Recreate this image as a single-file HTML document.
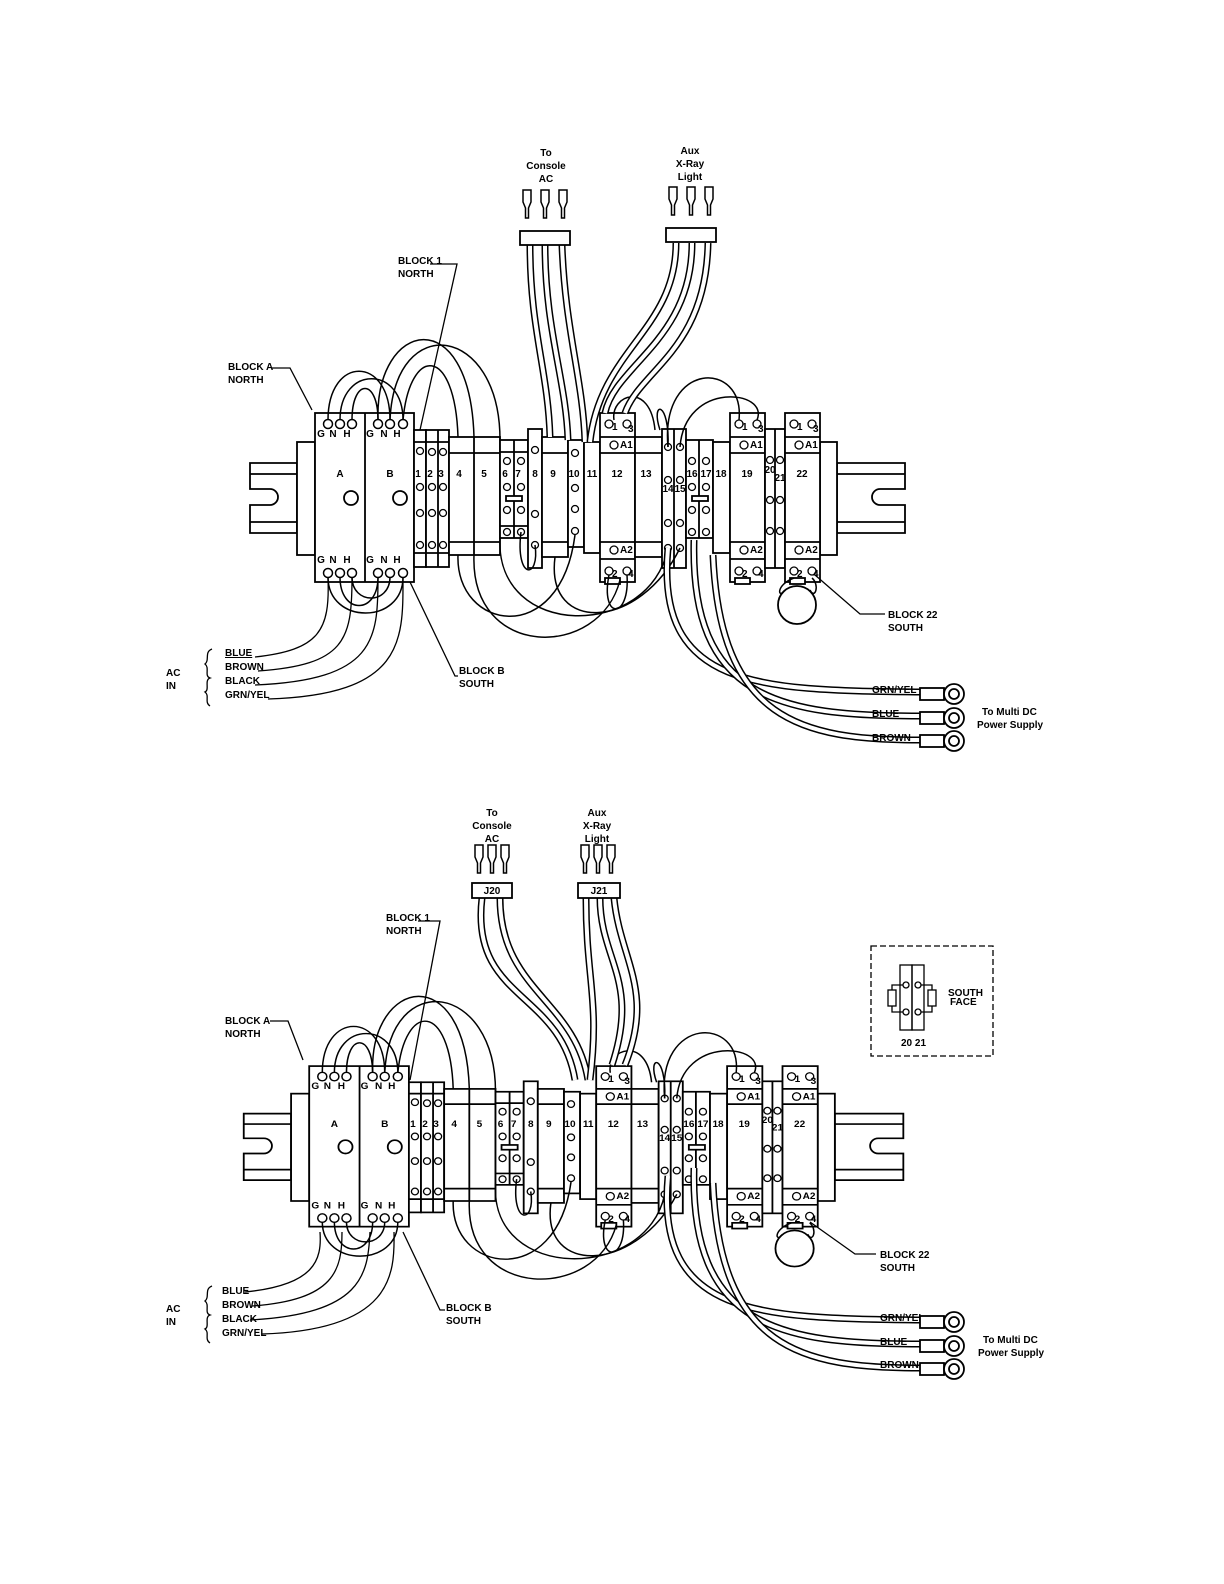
<!DOCTYPE html>
<html><head><meta charset="utf-8"><style>
html,body{margin:0;padding:0;background:#fff}
svg{display:block}
text{font-family:"Liberation Sans",sans-serif;font-size:10px;font-weight:bold;fill:#000}
.c{text-anchor:middle}
</style></head><body>
<svg width="1224" height="1584" viewBox="0 0 1224 1584" xmlns="http://www.w3.org/2000/svg">
<defs>
<g id="blk" fill="#fff" stroke="#000" stroke-width="1.8">
 <path d="M250,463 H297 V533 H250 V505 H270 A8,8 0 0 0 270,489 H250 Z"/>
 <line x1="250" y1="474" x2="297" y2="474"/><line x1="250" y1="522" x2="297" y2="522"/>
 <path d="M905,463 H837 V533 H905 V505 H880 A8,8 0 0 1 880,489 H905 Z"/>
 <line x1="837" y1="474" x2="905" y2="474"/><line x1="837" y1="522" x2="905" y2="522"/>
 <rect x="297" y="442" width="18" height="113"/>
 <rect x="820" y="442" width="17" height="113"/>
 <rect x="315" y="413" width="99" height="169"/>
 <line x1="365" y1="413" x2="365" y2="582"/>
 <circle cx="351" cy="498" r="7"/><circle cx="400" cy="498" r="7"/>
 <g stroke-width="1.5">
 <circle cx="328" cy="424" r="4.5"/><circle cx="340" cy="424" r="4.5"/><circle cx="352" cy="424" r="4.5"/>
 <circle cx="378" cy="424" r="4.5"/><circle cx="390" cy="424" r="4.5"/><circle cx="403" cy="424" r="4.5"/>
 <circle cx="328" cy="573" r="4.5"/><circle cx="340" cy="573" r="4.5"/><circle cx="352" cy="573" r="4.5"/>
 <circle cx="378" cy="573" r="4.5"/><circle cx="390" cy="573" r="4.5"/><circle cx="403" cy="573" r="4.5"/>
 </g>
 <rect x="414" y="430" width="12" height="137"/>
 <rect x="426" y="430" width="23" height="137"/><line x1="438" y1="430" x2="438" y2="567"/>
 <line x1="414" y1="442" x2="449" y2="442"/><line x1="414" y1="553" x2="449" y2="553"/>
 <rect x="449" y="437" width="51" height="118"/><line x1="474" y1="437" x2="474" y2="555"/>
 <line x1="449" y1="453" x2="500" y2="453"/><line x1="449" y1="542" x2="500" y2="542"/>
 <rect x="500" y="440" width="28" height="98"/><line x1="514" y1="440" x2="514" y2="538"/>
 <line x1="500" y1="452" x2="528" y2="452"/><line x1="500" y1="526" x2="528" y2="526"/>
 <rect x="506" y="496" width="16" height="5"/>
 <rect x="528" y="429" width="14" height="139"/>
 <rect x="542" y="437" width="26" height="120"/><line x1="542" y1="453" x2="568" y2="453"/><line x1="542" y1="542" x2="568" y2="542"/>
 <rect x="568" y="440" width="16" height="107"/>
 <rect x="584" y="442" width="16" height="111"/>
 <rect x="600" y="413" width="35" height="169"/><line x1="600" y1="437" x2="635" y2="437"/><line x1="600" y1="453" x2="635" y2="453"/><line x1="600" y1="542" x2="635" y2="542"/><line x1="600" y1="559" x2="635" y2="559"/>
 <rect x="635" y="437" width="27" height="120"/><line x1="635" y1="453" x2="662" y2="453"/><line x1="635" y1="542" x2="662" y2="542"/>
 <rect x="662" y="429" width="24" height="139"/><line x1="674" y1="429" x2="674" y2="568"/>
 <rect x="686" y="440" width="27" height="98"/><line x1="699" y1="440" x2="699" y2="538"/><rect x="692" y="496" width="16" height="5"/>
 <rect x="713" y="442" width="17" height="111"/>
 <rect x="730" y="413" width="35" height="169"/><line x1="730" y1="437" x2="765" y2="437"/><line x1="730" y1="453" x2="765" y2="453"/><line x1="730" y1="542" x2="765" y2="542"/><line x1="730" y1="559" x2="765" y2="559"/>
 <rect x="765" y="429" width="20" height="139"/><line x1="775" y1="429" x2="775" y2="568"/>
 <rect x="785" y="413" width="35" height="169"/><line x1="785" y1="437" x2="820" y2="437"/><line x1="785" y1="453" x2="820" y2="453"/><line x1="785" y1="542" x2="820" y2="542"/><line x1="785" y1="559" x2="820" y2="559"/>
 <g stroke-width="1.3">
 <circle cx="420" cy="451" r="3.5"/><circle cx="420" cy="487" r="3.5"/><circle cx="420" cy="513" r="3.5"/><circle cx="420" cy="545" r="3.5"/>
 <circle cx="432" cy="452" r="3.5"/><circle cx="443" cy="452" r="3.5"/><circle cx="432" cy="487" r="3.5"/><circle cx="443" cy="487" r="3.5"/><circle cx="432" cy="513" r="3.5"/><circle cx="443" cy="513" r="3.5"/><circle cx="432" cy="545" r="3.5"/><circle cx="443" cy="545" r="3.5"/>
 <circle cx="507" cy="461" r="3.5"/><circle cx="521" cy="461" r="3.5"/><circle cx="507" cy="487" r="3.5"/><circle cx="521" cy="487" r="3.5"/><circle cx="507" cy="510" r="3.5"/><circle cx="521" cy="510" r="3.5"/><circle cx="507" cy="532" r="3.5"/><circle cx="521" cy="532" r="3.5"/>
 <circle cx="535" cy="450" r="3.5"/><circle cx="535" cy="514" r="3.5"/><circle cx="535" cy="545" r="3.5"/>
 <circle cx="575" cy="453" r="3.5"/><circle cx="575" cy="488" r="3.5"/><circle cx="575" cy="509" r="3.5"/><circle cx="575" cy="531" r="3.5"/>
 <circle cx="609" cy="424" r="4"/><circle cx="627" cy="424" r="4"/><circle cx="614" cy="445" r="4"/><circle cx="614" cy="550" r="4"/><circle cx="609" cy="571" r="4"/><circle cx="627" cy="571" r="4"/>
 <circle cx="668" cy="447" r="3.5"/><circle cx="680" cy="447" r="3.5"/><circle cx="668" cy="480" r="3.5"/><circle cx="680" cy="480" r="3.5"/><circle cx="668" cy="523" r="3.5"/><circle cx="680" cy="523" r="3.5"/><circle cx="668" cy="548" r="3.5"/><circle cx="680" cy="548" r="3.5"/>
 <circle cx="692" cy="461" r="3.5"/><circle cx="706" cy="461" r="3.5"/><circle cx="692" cy="487" r="3.5"/><circle cx="706" cy="487" r="3.5"/><circle cx="692" cy="510" r="3.5"/><circle cx="706" cy="510" r="3.5"/><circle cx="692" cy="532" r="3.5"/><circle cx="706" cy="532" r="3.5"/>
 <circle cx="739" cy="424" r="4"/><circle cx="757" cy="424" r="4"/><circle cx="744" cy="445" r="4"/><circle cx="744" cy="550" r="4"/><circle cx="739" cy="571" r="4"/><circle cx="757" cy="571" r="4"/>
 <circle cx="770" cy="460" r="3.5"/><circle cx="780" cy="460" r="3.5"/><circle cx="770" cy="500" r="3.5"/><circle cx="770" cy="531" r="3.5"/><circle cx="780" cy="531" r="3.5"/><circle cx="780" cy="500" r="3.5"/>
 <circle cx="794" cy="424" r="4"/><circle cx="812" cy="424" r="4"/><circle cx="799" cy="445" r="4"/><circle cx="799" cy="550" r="4"/><circle cx="794" cy="571" r="4"/><circle cx="812" cy="571" r="4"/>
 </g>
 <rect x="605" y="578" width="15" height="6"/><rect x="735" y="578" width="15" height="6"/><rect x="790" y="578" width="15" height="6"/>
 <g fill="none" stroke-width="1.5">
 <path d="M328,420 C328,355 390,355 390,420"/><path d="M340,420 C340,365 403,365 403,420"/><path d="M352,420 C352,378 378,378 378,420"/>
 <path d="M378,420 C375,320 470,300 474,437"/><path d="M390,420 C395,310 500,325 500,440"/><path d="M403,420 C410,345 455,345 458,437"/>
 <path d="M340,577 C340,615 378,615 378,577"/><path d="M352,577 C352,605 390,605 390,577"/><path d="M328,577 C328,625 403,625 403,577"/>
 <path d="M474,555 C470,660 600,660 620,580"/><path d="M458,555 C455,630 560,650 575,535"/><path d="M500,538 C495,640 650,640 668,548"/>
 <path d="M521,532 C515,580 540,580 535,545"/><path d="M555,557 C545,635 640,630 680,548"/><path d="M609,575 C600,620 630,620 627,575"/>
 <path d="M614,420 C610,395 650,380 655,430"/><path d="M668,447 C660,360 745,360 739,420"/><path d="M680,447 C685,380 770,390 757,420"/>
 <path d="M660,430 C650,400 670,400 668,447"/>
 </g>
 <circle cx="797" cy="605" r="19"/>
 <path d="M794,578 C775,585 778,600 785,590 M812,578 C820,585 815,600 810,590" fill="none" stroke-width="1.5"/>
</g>
<g id="lbl">
<text class="c" x="321" y="437">G</text><text class="c" x="333" y="437">N</text><text class="c" x="347" y="437">H</text>
<text class="c" x="370" y="437">G</text><text class="c" x="384" y="437">N</text><text class="c" x="397" y="437">H</text>
<text class="c" x="321" y="563">G</text><text class="c" x="333" y="563">N</text><text class="c" x="347" y="563">H</text>
<text class="c" x="370" y="563">G</text><text class="c" x="384" y="563">N</text><text class="c" x="397" y="563">H</text>
<text class="c" x="340" y="477">A</text><text class="c" x="390" y="477">B</text>
<text class="c" x="418" y="477">1</text><text class="c" x="430" y="477">2</text><text class="c" x="441" y="477">3</text>
<text class="c" x="459" y="477">4</text><text class="c" x="484" y="477">5</text><text class="c" x="505" y="477">6</text><text class="c" x="518" y="477">7</text>
<text class="c" x="535" y="477">8</text><text class="c" x="553" y="477">9</text><text class="c" x="574" y="477">10</text><text class="c" x="592" y="477">11</text>
<text class="c" x="617" y="477">12</text><text class="c" x="646" y="477">13</text><text class="c" x="668" y="492">14</text><text class="c" x="680" y="492">15</text>
<text class="c" x="692" y="477">16</text><text class="c" x="706" y="477">17</text><text class="c" x="721" y="477">18</text><text class="c" x="747" y="477">19</text>
<text class="c" x="770" y="473">20</text><text class="c" x="780" y="481">21</text><text class="c" x="802" y="477">22</text>
<g font-size="9"><text x="620" y="448">A1</text><text x="750" y="448">A1</text><text x="805" y="448">A1</text>
<text x="620" y="553">A2</text><text x="750" y="553">A2</text><text x="805" y="553">A2</text>
<text x="612" y="430">1</text><text x="628" y="432">3</text><text x="742" y="430">1</text><text x="758" y="432">3</text><text x="797" y="430">1</text><text x="813" y="432">3</text>
<text x="612" y="577">2</text><text x="628" y="577">4</text><text x="742" y="577">2</text><text x="758" y="577">4</text><text x="797" y="577">2</text><text x="813" y="577">4</text></g>
</g>
<g id="cab" fill="none">
 <path d="M668,548 C655,690 760,690 920,692" stroke="#000" stroke-width="7"/>
 <path d="M668,548 C655,690 760,690 920,692" stroke="#fff" stroke-width="4"/>
 <path d="M694,540 C690,700 780,716 920,716" stroke="#000" stroke-width="7"/>
 <path d="M694,540 C690,700 780,716 920,716" stroke="#fff" stroke-width="4"/>
 <path d="M713,555 C720,720 800,740 920,740" stroke="#000" stroke-width="7"/>
 <path d="M713,555 C720,720 800,740 920,740" stroke="#fff" stroke-width="4"/>
</g>
<g id="ring" fill="#fff" stroke="#000" stroke-width="1.8">
 <rect x="0" y="-6" width="24" height="12"/>
 <circle cx="34" cy="0" r="10"/><circle cx="34" cy="0" r="5"/>
</g>
<g id="spade" fill="#fff" stroke="#000" stroke-width="1.5">
 <path d="M-4,0 H4 V12 L1.5,18 V28 H-1.5 V18 L-4,12 Z"/>
</g>
</defs>

<!-- TOP -->
<use href="#blk"/>
<use href="#cab"/>
<g fill="none">
 <path d="M530,245 C530,330 548,370 550,437" stroke="#000" stroke-width="7"/><path d="M530,245 C530,330 548,370 550,437" stroke="#fff" stroke-width="4"/>
 <path d="M545,245 C545,330 566,380 568,440" stroke="#000" stroke-width="7"/><path d="M545,245 C545,330 566,380 568,440" stroke="#fff" stroke-width="4"/>
 <path d="M562,245 C565,330 583,380 585,442" stroke="#000" stroke-width="7"/><path d="M562,245 C565,330 583,380 585,442" stroke="#fff" stroke-width="4"/>
 <path d="M676,243 C676,330 600,350 590,442" stroke="#000" stroke-width="7"/><path d="M676,243 C676,330 600,350 590,442" stroke="#fff" stroke-width="4"/>
 <path d="M692,243 C692,340 615,365 605,413" stroke="#000" stroke-width="7"/><path d="M692,243 C692,340 615,365 605,413" stroke="#fff" stroke-width="4"/>
 <path d="M708,243 C706,350 640,370 625,413" stroke="#000" stroke-width="7"/><path d="M708,243 C706,350 640,370 625,413" stroke="#fff" stroke-width="4"/>
</g>
<use href="#spade" x="527" y="190"/><use href="#spade" x="545" y="190"/><use href="#spade" x="563" y="190"/>
<use href="#spade" x="673" y="187"/><use href="#spade" x="691" y="187"/><use href="#spade" x="709" y="187"/>
<rect x="520" y="231" width="50" height="14" fill="#fff" stroke="#000" stroke-width="1.8"/>
<rect x="666" y="228" width="50" height="14" fill="#fff" stroke="#000" stroke-width="1.8"/>
<text class="c" x="546" y="156">To</text><text class="c" x="546" y="169">Console</text><text class="c" x="546" y="182">AC</text>
<text class="c" x="690" y="154">Aux</text><text class="c" x="690" y="167">X-Ray</text><text class="c" x="690" y="180">Light</text>
<g fill="none" stroke="#000" stroke-width="1.3">
 <path d="M430,264 H457 L420,430"/><path d="M272,368 H290 L312,410"/>
 <path d="M410,582 L455,676 H458"/><path d="M885,614 H860 L815,575"/>
 <path d="M255,657 C320,650 330,630 328,578"/><path d="M258,671 C345,665 352,640 352,578"/>
 <path d="M255,685 C375,680 378,640 378,578"/><path d="M268,699 C405,695 403,640 403,578"/>
 <path d="M212,649 C204,652 210,660 205,664 C210,668 204,676 210,678 C204,680 210,690 205,692 C210,696 204,702 210,706"/>
</g>
<text x="398" y="264">BLOCK 1</text><text x="398" y="277">NORTH</text>
<text x="228" y="370">BLOCK A</text><text x="228" y="383">NORTH</text>
<text x="459" y="674">BLOCK B</text><text x="459" y="687">SOUTH</text>
<text x="888" y="618">BLOCK 22</text><text x="888" y="631">SOUTH</text>
<text x="166" y="676">AC</text><text x="166" y="689">IN</text>
<text x="225" y="656" text-decoration="underline">BLUE</text><text x="225" y="670">BROWN</text><text x="225" y="684">BLACK</text><text x="225" y="698">GRN/YEL</text>
<text x="872" y="693">GRN/YEL</text><text x="872" y="717">BLUE</text><text x="872" y="741">BROWN</text>
<use href="#ring" x="920" y="694"/><use href="#ring" x="920" y="718"/><use href="#ring" x="920" y="741"/>
<text x="982" y="715">To Multi DC</text><text x="977" y="728">Power Supply</text>
<use href="#lbl"/>

<!-- BOTTOM -->
<g transform="translate(-8,650) scale(1.007,0.95) translate(0,25)">
<use href="#blk"/>
<use href="#lbl"/>
</g>
<use href="#cab" transform="translate(0,628)"/>
<g fill="none">
 <path d="M482,898 C470,1000 560,990 575,1080" stroke="#000" stroke-width="7"/><path d="M482,898 C470,1000 560,990 575,1080" stroke="#fff" stroke-width="4"/>
 <path d="M500,898 C500,990 575,1000 588,1080" stroke="#000" stroke-width="7"/><path d="M500,898 C500,990 575,1000 588,1080" stroke="#fff" stroke-width="4"/>
 <path d="M586,898 C586,980 600,1000 590,1080" stroke="#000" stroke-width="7"/><path d="M586,898 C586,980 600,1000 590,1080" stroke="#fff" stroke-width="4"/>
 <path d="M600,898 C600,960 640,980 612,1065" stroke="#000" stroke-width="7"/><path d="M600,898 C600,960 640,980 612,1065" stroke="#fff" stroke-width="4"/>
 <path d="M614,898 C620,960 655,990 625,1065" stroke="#000" stroke-width="7"/><path d="M614,898 C620,960 655,990 625,1065" stroke="#fff" stroke-width="4"/>
</g>
<use href="#spade" x="479" y="845"/><use href="#spade" x="492" y="845"/><use href="#spade" x="505" y="845"/>
<use href="#spade" x="585" y="845"/><use href="#spade" x="598" y="845"/><use href="#spade" x="611" y="845"/>
<rect x="472" y="883" width="40" height="15" fill="#fff" stroke="#000" stroke-width="1.8"/>
<rect x="578" y="883" width="42" height="15" fill="#fff" stroke="#000" stroke-width="1.8"/>
<text class="c" x="492" y="894" font-size="9">J20</text><text class="c" x="599" y="894" font-size="9">J21</text>
<text class="c" x="492" y="816">To</text><text class="c" x="492" y="829">Console</text><text class="c" x="492" y="842">AC</text>
<text class="c" x="597" y="816">Aux</text><text class="c" x="597" y="829">X-Ray</text><text class="c" x="597" y="842">Light</text>
<g fill="none" stroke="#000" stroke-width="1.3">
 <path d="M418,921 H440 L410,1080"/><path d="M270,1021 H288 L303,1060"/>
 <path d="M403,1232 L440,1310 H445"/><path d="M876,1254 H855 L810,1222"/>
 <path d="M245,1292 C315,1285 322,1260 320,1232"/><path d="M252,1306 C335,1300 342,1270 342,1232"/>
 <path d="M250,1320 C362,1314 368,1275 370,1232"/><path d="M262,1334 C392,1330 395,1275 394,1232"/>
 <path d="M212,1286 C204,1289 210,1297 205,1301 C210,1305 204,1313 210,1315 C204,1317 210,1327 205,1329 C210,1333 204,1339 210,1343"/>
 <rect x="871" y="946" width="122" height="110" stroke-dasharray="6,3"/>
 <rect x="900" y="965" width="12" height="65"/><rect x="912" y="965" width="12" height="65"/>
 <circle cx="906" cy="985" r="3"/><circle cx="918" cy="985" r="3"/><circle cx="906" cy="1012" r="3"/><circle cx="918" cy="1012" r="3"/>
 <path d="M903,985 H892 V1012 H903 M921,985 H932 V1012 H921"/>
 <rect x="888" y="990" width="8" height="16" fill="#fff"/><rect x="928" y="990" width="8" height="16" fill="#fff"/>
</g>
<text x="948" y="996" font-size="7">SOUTH</text><text x="950" y="1005" font-size="7">FACE</text>
<text x="901" y="1046" font-size="8">20 21</text>
<text x="386" y="921">BLOCK 1</text><text x="386" y="934">NORTH</text>
<text x="225" y="1024">BLOCK A</text><text x="225" y="1037">NORTH</text>
<text x="446" y="1311">BLOCK B</text><text x="446" y="1324">SOUTH</text>
<text x="880" y="1258">BLOCK 22</text><text x="880" y="1271">SOUTH</text>
<text x="166" y="1312">AC</text><text x="166" y="1325">IN</text>
<text x="222" y="1294">BLUE</text><text x="222" y="1308">BROWN</text><text x="222" y="1322">BLACK</text><text x="222" y="1336">GRN/YEL</text>
<text x="880" y="1321">GRN/YEL</text><text x="880" y="1345">BLUE</text><text x="880" y="1368">BROWN</text>
<use href="#ring" x="920" y="1322"/><use href="#ring" x="920" y="1346"/><use href="#ring" x="920" y="1369"/>
<text x="983" y="1343">To Multi DC</text><text x="978" y="1356">Power Supply</text>
</svg>
</body></html>
